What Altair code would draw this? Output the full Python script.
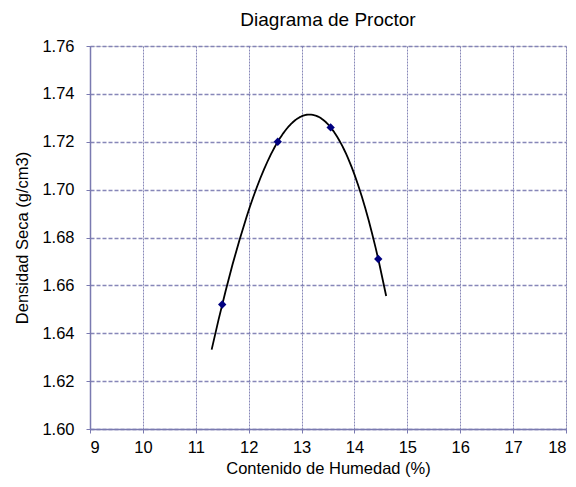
import altair as alt
import pandas as pd

humedad = [11.5, 12.55, 13.55, 14.45]
densidad = [1.652, 1.720, 1.726, 1.671]
curve_extent = [11.3, 14.6]
x_ticks = [9, 10, 11, 12, 13, 14, 15, 16, 17, 18]
y_ticks = [1.60, 1.62, 1.64, 1.66, 1.68, 1.70, 1.72, 1.74, 1.76]

df = pd.DataFrame({"x": humedad, "y": densidad})

grid_color = "#7a7ab0"
font = "Liberation Sans"

x_enc = alt.X(
    "x:Q",
    scale=alt.Scale(domain=[9, 18], nice=False, zero=False),
    axis=alt.Axis(
        title="Contenido de Humedad (%)",
        values=x_ticks,
        format="d",
        grid=True,
        gridColor=grid_color,
        gridDash=[2, 1],
        gridWidth=1,
        gridOpacity=0.9,
        domainColor=grid_color,
        domainWidth=1.5,
        tickColor=grid_color,
        tickSize=4,
        labelFont=font,
        labelFontSize=16.5,
        labelColor="#000000",
        labelPadding=6,
        titleFont=font,
        titleFontSize=16.5,
        titleFontWeight="normal",
        titleColor="#000000",
        titlePadding=5,
    ),
)
y_enc = alt.Y(
    "y:Q",
    scale=alt.Scale(domain=[1.60, 1.76], nice=False, zero=False),
    axis=alt.Axis(
        title="Densidad Seca (g/cm3)",
        values=y_ticks,
        format=".2f",
        grid=True,
        gridColor=grid_color,
        gridDash=[4, 2],
        gridWidth=1.3,
        gridOpacity=0.9,
        domainColor=grid_color,
        domainWidth=1.5,
        tickColor=grid_color,
        tickSize=4,
        labelFont=font,
        labelFontSize=16.5,
        labelColor="#000000",
        labelPadding=12,
        titleFont=font,
        titleFontSize=16.5,
        titleFontWeight="normal",
        titleColor="#000000",
        titlePadding=11,
    ),
)

base = alt.Chart(df)

curve = base.transform_regression(
    "x", "y", method="poly", order=3, extent=curve_extent
).mark_line(color="#000000", strokeWidth=1.8).encode(x=x_enc, y=y_enc)

points = base.mark_point(
    shape="diamond", filled=True, color="#000080", size=70, opacity=1
).encode(x=x_enc, y=y_enc)

chart = (
    alt.layer(curve, points)
    .properties(
        width=476,
        height=383,
        title=alt.TitleParams(
            "Diagrama de Proctor",
            font=font,
            fontSize=19,
            fontWeight="normal",
            color="#000000",
            offset=8,
        ),
        autosize=alt.AutoSizeParams(type="none"),
        padding={"left": 82, "top": 38, "right": 2, "bottom": 50},
    )
    .configure_view(stroke=None)
    .configure(background="white")
)

chart.save("out.html", embed_options={"renderer": "svg", "actions": False})
